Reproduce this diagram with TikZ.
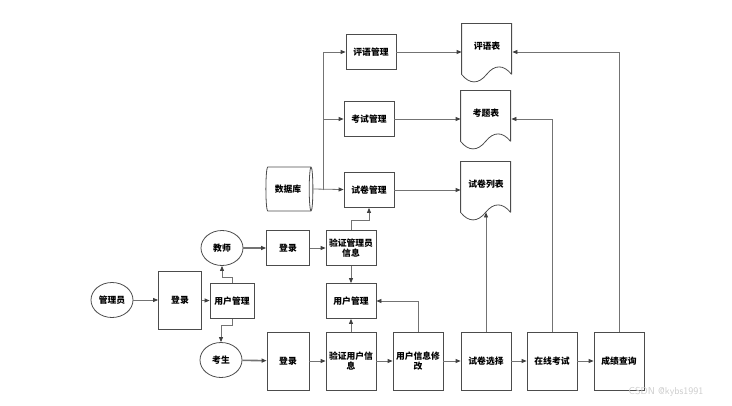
\documentclass[tikz,border=0pt]{standalone}
\usepackage{fontspec}
\newfontfamily\cjk{Noto Sans CJK SC}
\usetikzlibrary{shapes.geometric, arrows.meta}

\begin{document}
\begin{tikzpicture}[x=1pt, y=-1pt, line width=0.8pt,
  font=\cjk\bfseries\fontsize{8.8}{10.5}\selectfont,
  box/.style={draw=black!70, fill=white, minimum width=50pt, minimum height=35pt, inner sep=1pt, align=center},
  tallbox/.style={box, minimum height=58pt},
  role/.style={draw=black!70, ellipse, minimum width=42pt, minimum height=35pt, inner sep=0pt},
  docbox/.style={minimum width=50pt, minimum height=58pt, text depth=12pt, inner sep=0pt},
  db/.style={draw=black!70, cylinder, aspect=0.35, minimum width=44pt, minimum height=47pt, inner sep=1pt},
  flow/.style={draw=black!55, -{Triangle[length=5pt,width=4pt,color=black!75]}},
  thick flow/.style={flow, line width=1.6pt}]
  \useasboundingbox (0,0) rectangle (732,405);
  \node[role] (gly) at (112,300) {管理员};
  \node[tallbox, minimum width=43pt] (dl1) at (180,300) {登录};
  \node[box, minimum width=44pt] (yhgl1) at (232,301) {用户管理};
  \node[role] (js) at (222,248) {教师};
  \node[role] (ks) at (221,360) {考生};
  \node[box, minimum width=43pt] (dl2) at (288,248) {登录};
  \node[box] (yzgly) at (351,248) {验证管理员\\信息};
  \node[db] (sjk) at (288,189) {数据库};
  \coordinate (fork) at (323,190);
  \node[box] (sjgl) at (369,190) {试卷管理};
  \node[box] (ksgl) at (369,119) {考试管理};
  \node[box] (pygl) at (371,52) {评语管理};
  \node[docbox] (pyb) at (487,52) {评语表};
  \node[docbox] (ktb) at (486,119) {考题表};
  \node[docbox] (sjlb) at (486,190) {试卷列表};
  \node[box] (yhgl2) at (351,301) {用户管理};
  \node[tallbox, minimum width=42pt] (dl3) at (288,361) {登录};
  \node[tallbox] (yzyh) at (351,361) {验证用户信\\息};
  \node[tallbox] (yhxg) at (418,361) {用户信息修\\改};
  \node[tallbox] (sjxz) at (486,361) {试卷选择};
  \node[tallbox] (zxks) at (552,361) {在线考试};
  \node[tallbox] (cjcx) at (619,361) {成绩查询};
  \node[text=black!20, font=\sffamily\fontsize{10}{12}\selectfont] (wm) at (666,392) {CSDN @kybs1991};
  \foreach \n in {pyb,ktb,sjlb}
    \draw[draw=black!70, shift={(\n.south west)}] (50,-7) -- (50,-58) -- (0,-58) -- (0,-7)
      .. controls (8,3) and (17,3) .. (25,-7) .. controls (33,-17) and (42,-17) .. (50,-7);
  \draw[flow] (gly) -- (dl1);
  \draw[flow] (dl1) -- (yhgl1);
  \draw[flow] (yhgl1.north) -- ++(0,-6) -| (js.south);
  \draw[flow] (yhgl1.south) -- ++(0,6) -| (ks.north);
  \draw[thick flow] (js) -- (dl2);
  \draw[thick flow] (ks) -- (dl3);
  \draw[flow] (dl2) -- (yzgly);
  \draw[flow] (yzgly) -- (yhgl2);
  \draw[flow] (yzgly.north) -- ++(0,-10) -| (sjgl.south);
  \draw[flow] (sjk.east) -- (sjgl);
  \draw[flow] (fork) |- (pygl);
  \draw[flow] (fork) |- (ksgl);
  \draw[flow] (pygl) -- (pyb);
  \draw[flow] (ksgl) -- (ktb);
  \draw[flow] (sjgl) -- (sjlb);
  \foreach \a/\b in {dl3/yzyh, yzyh/yhxg, yhxg/sjxz, sjxz/zxks, zxks/cjcx}
    \draw[flow] (\a) -- (\b);
  \draw[flow] (yzyh) -- (yhgl2);
  \draw[flow] (yhxg.north) |- (yhgl2.east);
  \draw[flow] (sjxz.north) -- ([yshift=7pt]sjlb.south);
  \draw[flow] (zxks.north) |- (ktb.east);
  \draw[flow] (cjcx.north) |- (pyb.east);
\end{tikzpicture}
\end{document}
